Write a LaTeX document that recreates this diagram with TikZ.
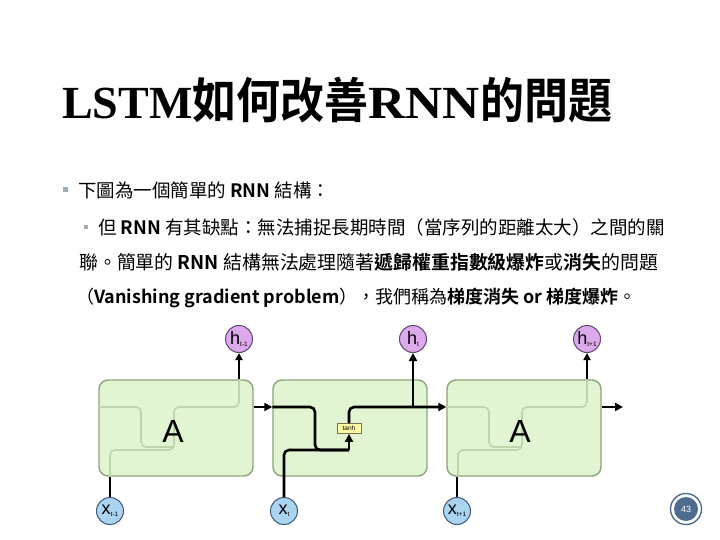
\documentclass[tikz,border=0pt]{standalone}
\usepackage{fontspec}
\setmainfont{Noto Sans CJK TC}[BoldFont={Noto Sans CJK TC Bold}]
\newfontfamily\titleserif{Liberation Serif}
\newfontfamily\diagfont{Liberation Sans}
\usetikzlibrary{arrows.meta,positioning,calc}

\newcommand{\cellsub}[2]{#1\raisebox{-2pt}{\fontsize{6.5}{6.5}\selectfont #2}}
\definecolor{cell fill}{RGB}{225,245,210}
\definecolor{cell edge}{RGB}{140,165,122}
\definecolor{cell trace}{RGB}{190,212,172}
\definecolor{h fill}{RGB}{220,170,236}
\definecolor{h edge}{RGB}{95,70,110}
\definecolor{x fill}{RGB}{170,212,240}
\definecolor{x edge}{RGB}{60,90,120}
\definecolor{bullet grey}{RGB}{160,172,182}
\definecolor{pgnum blue}{RGB}{78,108,142}
\tikzset{cell/.style={draw=cell edge, fill=cell fill, line width=1.4pt,
        rounded corners=9pt, minimum width=154pt, minimum height=96pt},
    bigA/.style={inner sep=0pt, font=\diagfont\fontsize{32}{32}\selectfont},
    hout/.style={circle, draw=h edge, fill=h fill, line width=1pt,
        minimum size=27pt, inner sep=0pt, font=\diagfont\fontsize{18}{18}\selectfont},
    xin/.style={hout, draw=x edge, fill=x fill},
    tanhbox/.style={draw=black!60!yellow, fill=yellow!35, line width=0.7pt,
        minimum width=24pt, minimum height=10pt, inner sep=0pt,
        font=\diagfont\fontsize{6.5}{6.5}\selectfont},
    flow/.style={line width=2.6pt, rounded corners=5pt},
    flowarrow/.style={flow, -{Triangle[length=8pt,width=8pt]}},
    thinflow/.style={line width=1.8pt},
    thinarrow/.style={thinflow, -{Triangle[length=7pt,width=7pt]}},
    faint/.style={draw=cell trace, line width=1.6pt, rounded corners=5pt},
    bulletsq/.style={fill=bullet grey, minimum size=5pt, inner sep=0pt},
    body/.style={anchor=base west, inner sep=0pt, font=\fontsize{18.5}{18.5}\selectfont}}

\begin{document}
\begin{tikzpicture}[x=1pt, y=-1pt]
    \useasboundingbox (0,0) rectangle (720,540);

    \node[anchor=base west, inner sep=0pt] (title) at (62,119)
        {{\fontsize{46}{46}\selectfont\titleserif\bfseries LSTM}%
         \scalebox{1}[1.1]{\fontsize{44}{44}\selectfont\textbf{如何改善}}%
         \scalebox{1.12}[1]{\fontsize{46}{46}\selectfont\titleserif\bfseries RNN}%
         \scalebox{1}[1.1]{\fontsize{44}{44}\selectfont\textbf{的問題}}};

    \node[bulletsq] (b1) at (65,190) {};
    \node[body] (t1) at (78,197) {下圖為一個簡單的 \textbf{RNN} 結構：};
    \node[bulletsq, minimum size=4pt] (b2) at (86,227) {};
    \node[body] (t2) at (98,234) {但 \textbf{RNN} 有其缺點：無法捕捉長期時間（當序列的距離太大）之間的關};
    \node[body, font=\fontsize{18.9}{18.9}\selectfont] (t3) at (79,269) {聯。簡單的 \textbf{RNN} 結構無法處理隨著\textbf{遞歸權重指數級爆炸}或\textbf{消失}的問題};
    \node[body, font=\fontsize{18}{18}\selectfont] (t4) at (76,303) {（\textbf{Vanishing gradient problem}），我們稱為\textbf{梯度消失 or 梯度爆炸}。};

    % the three cells
    \node[cell] (A1) at (176,428) {};
    \node[cell] (A2) at (350,428) {};
    \node[cell] (A3) at (524,428) {};
    \foreach \dx in {-174,174}{
        \begin{scope}[xshift=\dx]
            \draw[faint] (273,407) -| (315,447) -- (348,447);
            \draw[faint] (284,476) |- (348,450) -- (348,407) -- (413,407) -- (413,380);
        \end{scope}}
    \node[bigA] (a1) at (173,431) {A};
    \node[bigA] (a3) at (520,431) {A};

    \node[hout] (h1) at (239,339) {\cellsub{h}{t-1}};
    \node[hout] (h2) at (413,339) {\cellsub{h}{t}};
    \node[hout] (h3) at (587,339) {\cellsub{h}{t+1}};
    \node[xin] (x1) at (110,511) {\cellsub{x}{t-1}};
    \node[xin] (x2) at (284,511) {\cellsub{x}{t}};
    \node[xin] (x3) at (457,511) {\cellsub{x}{t+1}};
    \node[tanhbox] (th) at (349,428.5) {tanh};

    \coordinate (s0) at (0,407);
    \coordinate (join) at (349,450);
    \coordinate (out) at (623,407);

    \draw[flowarrow] (A1.east |- s0) -- (A2.west |- s0);
    \draw[flow] (A2.west |- s0) -| (315,450) -- (join);
    \draw[flow] (x2) |- (join);
    \draw[flowarrow] (join) -- (th.south);
    \draw[flowarrow] (th.north) |- (A3.west |- s0);
    \draw[flowarrow] (h2 |- s0) -- (h2);
    \draw[flowarrow] (A3.east |- s0) -- (out);
    \draw[thinarrow] (h1 |- A1.north) -- (h1);
    \draw[thinarrow] (h3 |- A3.north) -- (h3);
    \draw[thinflow] (x1) -- (x1 |- A1.south);
    \draw[thinflow] (x3) -- (x3 |- A3.south);

    \node[circle, draw=pgnum blue, line width=1.4pt, minimum size=31pt, inner sep=0pt] (pgring) at (686,509) {};
    \node[circle, fill=pgnum blue, minimum size=24pt, inner sep=0pt, text=white,
        font=\diagfont\fontsize{9}{9}\selectfont] (pg) at (pgring) {43};
\end{tikzpicture}
\end{document}
